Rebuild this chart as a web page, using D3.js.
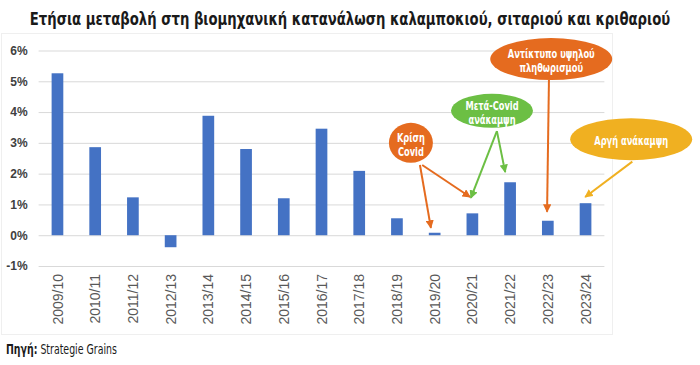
<!DOCTYPE html>
<html><head><meta charset="utf-8">
<script src="https://cdn.jsdelivr.net/npm/d3@7/dist/d3.min.js"></script>
<style>
html,body{margin:0;padding:0;background:#fff;}
svg{display:block;}
.cond{font-family:"DejaVu Sans Condensed","Roboto",sans-serif;}
.ax{font-family:"Liberation Sans","Open Sans",sans-serif;}
</style></head>
<body><svg id="c" width="700" height="365"></svg>
<script>
const titleText = "Ετήσια μεταβολή στη βιομηχανική κατανάλωση καλαμποκιού, σιταριού και κριθαριού";
const sourceLabel = "Πηγή:";
const sourceText = " Strategie Grains";
const categories = ["2009/10","2010/11","2011/12","2012/13","2013/14","2014/15","2015/16","2016/17","2017/18","2018/19","2019/20","2020/21","2021/22","2022/23","2023/24"];
const values = [5.26, 2.86, 1.23, -0.39, 3.88, 2.80, 1.20, 3.46, 2.09, 0.55, 0.08, 0.71, 1.72, 0.47, 1.04];
const yTicks = [-1, 0, 1, 2, 3, 4, 5, 6];
// callouts: label lines and position in chart units (category index, value)
const calloutLines = [["Κρίση","Covid"],["Μετά-Covid","ανάκαμψη"],["Αντίκτυπο υψηλού","πληθωρισμού"],["Αργή ανάκαμψη"]];
const calloutAt = [[9.37,3.0],[11.52,4.04],[13.09,5.72],[15.21,3.12]];
// arrows: callout index, start [index,value], tip [index,value]
const arrowFrom = [0,0,1,1,2,3];
const arrowStart = [[9.61,2.28],[9.67,2.28],[11.65,3.38],[11.65,3.38],[13.03,5.04],[15.24,2.39]];
const arrowTip = [[9.90,0.24],[10.94,1.24],[10.96,1.21],[11.87,2.05],[12.98,0.76],[13.99,1.24]];

const colors = ["#E56B1F","#6CBF44","#E56B1F","#F0B021"];
const sizes = [[22,20],[41,17],[61,21],[61,21]];

const svg = d3.select("#c");
const W = 700, H = 365;
const m = {left:38.6, right:700-604.4};

const x = d3.scaleBand().domain(categories).range([m.left, W-m.right]).paddingInner(0.69).paddingOuter(0.345);
const y = d3.scaleLinear().domain([-1,6]).range([266, 50.5]);
const xi = i => x(categories[0]) + x.bandwidth()/2 + i*x.step();

// horizontally condense a text element around its anchor point
function condense(node, ax, ay, sx){
  d3.select(node).attr("transform",`translate(${ax},${ay}) scale(${sx},1) translate(${-ax},${-ay})`);
}

// chart frame
svg.append("rect").attr("x",1.5).attr("y",33.5).attr("width",611).attr("height",301)
  .attr("fill","#fff").attr("stroke","#efefef").attr("stroke-width",1);

// title
const tt = svg.append("text").attr("class","cond").attr("x",350).attr("y",25).attr("text-anchor","middle")
  .attr("font-size",18.5).attr("font-weight","bold").attr("fill","#1a1a1a").text(titleText);
condense(tt.node(), 350, 25, 641/tt.node().getComputedTextLength());

// gridlines + y axis
const yAxis = d3.axisLeft(y).tickValues(yTicks).tickSize(-(W-m.right-m.left)).tickFormat(d=>d+"%");
const gy = svg.append("g").attr("transform",`translate(${m.left},0)`).call(yAxis);
gy.select(".domain").remove();
gy.selectAll(".tick line").attr("stroke","#d9d9d9").attr("stroke-width",1);
gy.selectAll(".tick text").attr("class","ax").attr("x",-11).attr("font-size",12).attr("fill","#404040").attr("font-weight","bold");

// bars
svg.append("g").selectAll("rect").data(values).join("rect")
  .attr("x",(d,i)=>x(categories[i]))
  .attr("width",x.bandwidth())
  .attr("y",d=>y(Math.max(0,d)))
  .attr("height",d=>Math.abs(y(d)-y(0)))
  .attr("fill","#4472C4");

// x axis labels
const xAxis = d3.axisBottom(x).tickSize(0);
const gx = svg.append("g").attr("transform",`translate(0,${y(-1)})`).call(xAxis);
gx.select(".domain").remove();
gx.selectAll(".tick text").attr("class","ax").attr("font-size",14).attr("fill","#595959")
  .attr("text-anchor","end").attr("transform","rotate(-90)").attr("x",-8).attr("y",0).attr("dy","0.36em");

// arrow markers
const defs = svg.append("defs");
colors.forEach((c,i)=>{
  defs.append("marker").attr("id","ah"+i).attr("viewBox","0 0 10 10").attr("refX",9).attr("refY",5)
    .attr("markerWidth",4.2).attr("markerHeight",4.2).attr("orient","auto")
    .append("path").attr("d","M0,0 L10,5 L0,10 z").attr("fill",c);
});

// arrows
svg.append("g").selectAll("line").data(arrowFrom).join("line")
  .attr("x1",(d,i)=>xi(arrowStart[i][0])).attr("y1",(d,i)=>y(arrowStart[i][1]))
  .attr("x2",(d,i)=>xi(arrowTip[i][0])).attr("y2",(d,i)=>y(arrowTip[i][1]))
  .attr("stroke",d=>colors[d]).attr("stroke-width",2)
  .attr("marker-end",d=>`url(#ah${d})`);

// callouts
const cg = svg.append("g").selectAll("g").data(calloutLines).join("g")
  .attr("transform",(d,i)=>`translate(${xi(calloutAt[i][0])},${y(calloutAt[i][1])})`);
cg.append("ellipse").attr("rx",(d,i)=>sizes[i][0]).attr("ry",(d,i)=>sizes[i][1]).attr("fill",(d,i)=>colors[i]);
cg.each(function(lines,i){
  const g = d3.select(this);
  const n = lines.length, lh = 14;
  lines.forEach((t,k)=>{
    const yy = (k-(n-1)/2)*lh + 2;
    const te = g.append("text").attr("class","cond").attr("text-anchor","middle")
      .attr("x",0).attr("y",yy).attr("dy","0.35em")
      .attr("font-size",11.5).attr("font-weight","bold").attr("fill","#fff").text(t);
    condense(te.node(), 0, yy, 0.8);
  });
});

// source
const st = svg.append("text").attr("class","cond").attr("x",6).attr("y",354).attr("font-size",14).attr("fill","#1a1a1a");
st.append("tspan").attr("font-weight","bold").text(sourceLabel);
st.append("tspan").text(sourceText);
condense(st.node(), 6, 354, 111/st.node().getComputedTextLength());
</script></body></html>
